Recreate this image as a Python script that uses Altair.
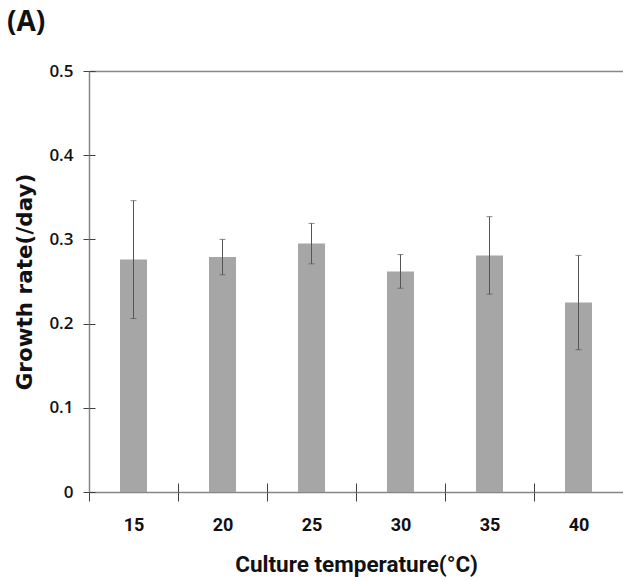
import altair as alt
import pandas as pd

temps = ["15", "20", "25", "30", "35", "40"]
rates = [0.276, 0.279, 0.295, 0.262, 0.281, 0.225]
errs = [0.070, 0.021, 0.024, 0.020, 0.046, 0.056]

df = pd.DataFrame({"temp": temps, "rate": rates, "err": errs})

AX = "#868686"
NARROW = "Roboto"
xscale = alt.Scale(domain=temps, paddingInner=0, paddingOuter=0)
yscale = alt.Scale(domain=[0, 0.5], nice=False, zero=True)
yvals = [0, 0.1, 0.2, 0.3, 0.4, 0.5]

base = alt.Chart(df).transform_calculate(
    lo="datum.rate - datum.err", hi="datum.rate + datum.err"
)

x_main = alt.Axis(
    orient="bottom", tickBand="extent", tickSize=9, tickColor="#404040", tickWidth=1,
    domainColor=AX, domainWidth=1.5, labelFont=NARROW,
    labelFontWeight="bold", labelFontSize=18, labelColor="#111", labelPadding=15,
    labelAngle=0, title="Culture temperature(°C)", titleFont=NARROW,
    titleFontWeight="bold", titleFontSize=22.5, titleColor="#111", titlePadding=19,
    grid=False,
)
y_main = alt.Axis(
    orient="left", values=yvals, tickSize=6, tickColor="#404040", tickWidth=1,
    domainColor=AX, domainWidth=1.5, labelFont="Open Sans", labelFontWeight=600,
    labelFontSize=17, labelColor="#111", labelPadding=10,
    labelExpr="datum.value == 0 ? '0' : format(datum.value, '.1f')",
    title="Growth rate(/day)", titleFont="DejaVu Sans", titleFontWeight="bold",
    titleFontSize=21.5, titleColor="#111", titlePadding=12, grid=False,
)

bars = base.mark_bar(size=27, color="#a6a6a6").encode(
    x=alt.X("temp:N", sort=temps, scale=xscale, axis=x_main),
    y=alt.Y("rate:Q", scale=yscale, axis=y_main),
)

rules = base.mark_rule(color="#555555", strokeWidth=1).encode(
    x=alt.X("temp:N", sort=temps, scale=xscale, axis=None),
    y=alt.Y("lo:Q", scale=yscale, axis=None),
    y2="hi:Q",
)
caps_hi = base.mark_tick(color="#555555", size=6, thickness=1).encode(
    x=alt.X("temp:N", sort=temps, scale=xscale, axis=None),
    y=alt.Y("hi:Q", scale=yscale, axis=None),
)
caps_lo = base.mark_tick(color="#555555", size=6, thickness=1).encode(
    x=alt.X("temp:N", sort=temps, scale=xscale, axis=None),
    y=alt.Y("lo:Q", scale=yscale, axis=None),
)

inner = base.mark_bar(opacity=0).encode(
    x=alt.X("temp:N", sort=temps, scale=xscale,
            axis=alt.Axis(orient="bottom", offset=-9, tickBand="extent", tickSize=9,
                          tickColor="#404040", tickWidth=1, domain=False, labels=False,
                          title=None, grid=False)),
    y=alt.Y("rate:Q", scale=yscale,
            axis=alt.Axis(orient="left", offset=-6, values=yvals, tickSize=6,
                          tickColor="#404040", tickWidth=1, domain=False, labels=False,
                          title=None, grid=False)),
)

top = base.mark_bar(opacity=0).encode(
    x=alt.X("temp:N", sort=temps, scale=xscale,
            axis=alt.Axis(orient="top", domainColor=AX, domainWidth=1.5, ticks=False,
                          labels=False, title=None, grid=False)),
    y=alt.Y("rate:Q", scale=yscale, axis=None),
)

chart = (
    alt.layer(bars, rules, caps_hi, caps_lo, inner, top)
    .resolve_axis(x="independent", y="independent")
    .properties(
        width=534, height=421,
        autosize=alt.AutoSizeParams(type="none"),
        padding={"left": 89, "top": 71, "right": 0, "bottom": 89},
        title=alt.TitleParams("(A)", anchor="start", frame="group", font="Open Sans",
                              fontWeight="bold", fontSize=28, color="#111", dx=-82, dy=3,
                              offset=0, baseline="bottom"),
    )
    .configure_view(stroke=None)
    .configure(background="white")
)

chart.save("out.html", embed_options={"renderer": "svg", "actions": False})
